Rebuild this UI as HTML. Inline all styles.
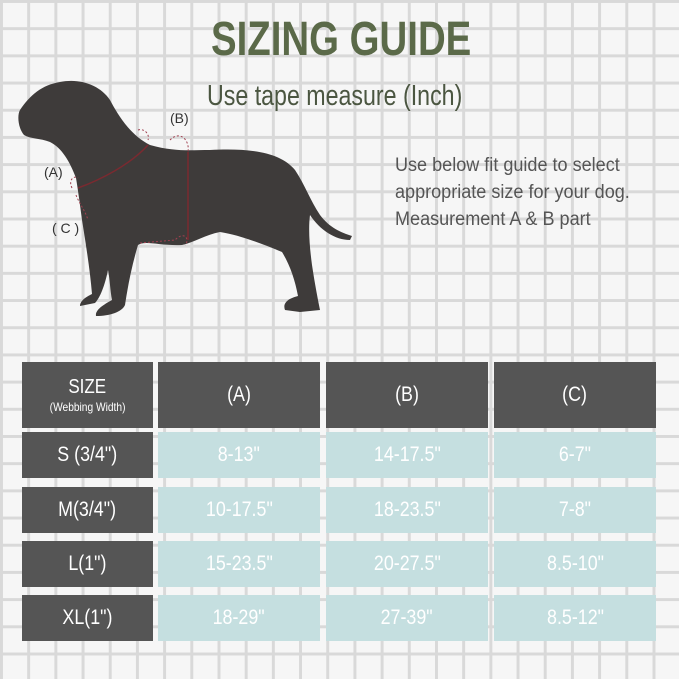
<!DOCTYPE html>
<html><head><meta charset="utf-8"><style>
body{margin:0}
#c{position:relative;width:679px;height:679px;overflow:hidden;background-color:#f6f6f6;
background-image:linear-gradient(to right,#d9d9d9 3px,transparent 3px),linear-gradient(to bottom,#d9d9d9 3px,transparent 3px);
background-size:27.2px 27.2px;background-position:0px 0px;font-family:"Liberation Sans",sans-serif}
.t{position:absolute;white-space:nowrap;transform-origin:0 0}
.cell{position:absolute;display:flex;align-items:center;justify-content:center;color:#fff;font-size:21px;text-align:center;line-height:1.1}
.cell span.s{display:inline-block;transform:scaleX(0.85)}
.d{background:#555555}.l{background:#c5dfe0}
</style></head><body><div id="c">
<div class="t" style="left:211px;top:12px;font-size:48px;font-weight:bold;color:#5b6a49;transform:scaleX(0.8)">SIZING GUIDE</div>
<div class="t" style="left:207px;top:80px;font-size:29px;color:#4b5641;transform:scaleX(0.8)">Use tape measure (Inch)</div>
<div class="t" style="left:395px;top:152px;font-size:19px;color:#555;line-height:27px;transform:scaleX(0.95)">Use below fit guide to select<br>appropriate size for your dog.<br>Measurement A &amp; B part</div>
<svg width="679" height="679" style="position:absolute;left:0;top:0">
<path fill="#3e3b3a" d="M60,82 C80,78 100,85 110,100 C118,115 130,135 150,145 C175,152 190,150 210,150 C250,148 280,152 295,170 C305,185 310,200 320,215 C330,228 340,232 352,236 L350,240 C335,240 320,230 310,215 C308,230 310,250 312,265 C315,285 318,300 320,310 L300,312 L285,310 C282,302 290,298 298,296 C295,280 290,265 282,252 C265,245 240,235 220,232 C205,235 195,242 182,245 C160,246 145,240 138,245 C132,265 128,285 125,305 C122,312 110,316 96,316 C95,310 103,305 112,300 C110,290 110,280 108,270 C105,285 100,298 95,303 L80,306 C80,300 88,296 92,294 C90,270 86,245 82,220 C80,205 78,190 76,178 C70,162 62,148 50,142 C40,138 30,139 24,135 C18,128 17,115 20,110 C30,95 42,85 60,82 Z"/>
<path fill="none" stroke="#7a2a30" stroke-width="1.5" d="M78,188 C100,180 130,165 148,145 M188,152 L188,240"/>
<path fill="none" stroke="#a04050" stroke-width="1" stroke-dasharray="2,2" d="M138,130 C145,128 150,135 148,140 M170,140 C180,130 190,140 188,152 M72,188 C68,180 74,175 78,178 M76,195 C80,205 85,210 88,220 M140,243 L175,240 C185,230 190,240 185,245"/>
<text x="170" y="123" font-size="14" fill="#333">(B)</text>
<text x="44" y="177" font-size="14" fill="#333">(A)</text>
<text x="52" y="233" font-size="14" fill="#333">( C )</text>
</svg>
<div class="cell d" style="left:22px;top:362px;width:131px;height:66px;flex-direction:column"><span class="s" style="font-size:20px">SIZE</span><span class="s" style="font-size:12px;margin-top:3px">(Webbing Width)</span></div>
<div class="cell d" style="left:158px;top:362px;width:162px;height:66px"><span class="s">(A)</span></div>
<div class="cell d" style="left:326px;top:362px;width:162px;height:66px"><span class="s">(B)</span></div>
<div class="cell d" style="left:494px;top:362px;width:162px;height:66px"><span class="s">(C)</span></div>

<div class="cell d" style="left:22px;top:432px;width:131px;height:46px"><span class="s">S (3/4")</span></div>
<div class="cell l" style="left:158px;top:432px;width:162px;height:46px"><span class="s">8-13"</span></div>
<div class="cell l" style="left:326px;top:432px;width:162px;height:46px"><span class="s">14-17.5"</span></div>
<div class="cell l" style="left:494px;top:432px;width:162px;height:46px"><span class="s">6-7"</span></div>

<div class="cell d" style="left:22px;top:487px;width:131px;height:46px"><span class="s">M(3/4")</span></div>
<div class="cell l" style="left:158px;top:487px;width:162px;height:46px"><span class="s">10-17.5"</span></div>
<div class="cell l" style="left:326px;top:487px;width:162px;height:46px"><span class="s">18-23.5"</span></div>
<div class="cell l" style="left:494px;top:487px;width:162px;height:46px"><span class="s">7-8"</span></div>

<div class="cell d" style="left:22px;top:541px;width:131px;height:46px"><span class="s">L(1")</span></div>
<div class="cell l" style="left:158px;top:541px;width:162px;height:46px"><span class="s">15-23.5"</span></div>
<div class="cell l" style="left:326px;top:541px;width:162px;height:46px"><span class="s">20-27.5"</span></div>
<div class="cell l" style="left:494px;top:541px;width:162px;height:46px"><span class="s">8.5-10"</span></div>

<div class="cell d" style="left:22px;top:595px;width:131px;height:46px"><span class="s">XL(1")</span></div>
<div class="cell l" style="left:158px;top:595px;width:162px;height:46px"><span class="s">18-29"</span></div>
<div class="cell l" style="left:326px;top:595px;width:162px;height:46px"><span class="s">27-39"</span></div>
<div class="cell l" style="left:494px;top:595px;width:162px;height:46px"><span class="s">8.5-12"</span></div>
</div></body></html>
